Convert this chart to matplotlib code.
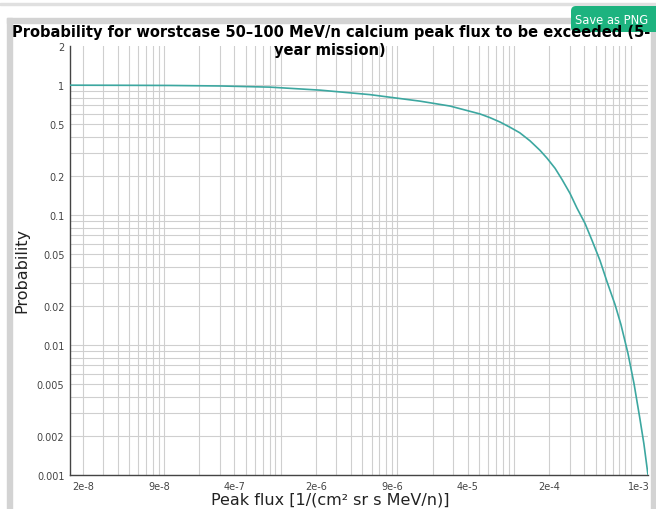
import numpy as np
import matplotlib
matplotlib.use("Agg")
import matplotlib.pyplot as plt
from matplotlib.patches import Rectangle, FancyBboxPatch
from matplotlib.ticker import FixedLocator, FixedFormatter, NullFormatter, LogLocator

# valeurs
flux = [1.556e-8, 4.18e-8, 1.12e-7, 3.01e-7, 8.07e-7, 2.17e-6, 5.82e-6,
        1.56e-5, 2.83e-5, 5.11e-5, 6.22e-5, 7.59e-5, 9.24e-5, 1.12e-4,
        1.37e-4, 1.67e-4, 1.92e-4, 2.25e-4, 2.58e-4, 3.02e-4, 3.47e-4,
        4.06e-4, 4.67e-4, 5.46e-4, 6.27e-4, 7.35e-4, 8.26e-4, 9.49e-4,
        1.07e-3, 1.20e-3, 1.30e-3, 1.41e-3]
prob = [0.999, 0.997, 0.994, 0.985, 0.965, 0.915, 0.845,
        0.753, 0.69, 0.60, 0.562, 0.52, 0.474, 0.43,
        0.373, 0.315, 0.274, 0.229, 0.188, 0.147, 0.113,
        0.0865, 0.0638, 0.0448, 0.0308, 0.0205, 0.0144, 0.00863,
        0.00504, 0.00273, 0.00174, 0.001]

x_ticks = [2e-8, 9.1e-8, 4e-7, 2e-6, 9e-6, 4e-5, 2e-4, 1.17e-3]
x_labels = ['2e-8', '9e-8', '4e-7', '2e-6', '9e-6', '4e-5', '2e-4', '1e-3']
y_ticks = [0.001, 0.002, 0.005, 0.01, 0.02, 0.05, 0.1, 0.2, 0.5, 1, 2]
y_labels = ['0.001', '0.002', '0.005', '0.01', '0.02', '0.05', '0.1', '0.2', '0.5', '1', '2']

title1 = 'Probability for worstcase 50\u2013100 MeV/n calcium peak flux to be exceeded (5-'
title2 = 'year mission)'
xlabel = 'Peak flux [1/(cm\u00b2 sr s MeV/n)]'
ylabel = 'Probability'

W, H = 656, 510
fig = plt.figure(figsize=(W / 100, H / 100), dpi=100)
fig.patch.set_facecolor('white')

def px(x, y):
    # pixels (origine en haut a gauche) -> pouces
    return x / 100, (H - y) / 100

# cadre de la page
tr = fig.dpi_scale_trans
fig.patches.append(Rectangle(px(0, 5.5), W / 100, 1.5 / 100, transform=tr, color='#e0e0e0', zorder=0))
fig.patches.append(Rectangle(px(7, 24), (W - 7) / 100, 5 / 100, transform=tr, color='#d3d3d3', zorder=0))
fig.patches.append(Rectangle(px(7, H), 5 / 100, (H - 19) / 100, transform=tr, color='#d3d3d3', zorder=0))
fig.patches.append(Rectangle(px(651, H), 5 / 100, (H - 19) / 100, transform=tr, color='#d3d3d3', zorder=0))
fig.patches.append(FancyBboxPatch(px(571, 33), 95 / 100, 26 / 100, transform=tr,
                                  boxstyle='round,pad=0,rounding_size=0.05',
                                  facecolor='#1db37f', edgecolor='none', zorder=1))
fig.text(612 / W, 1 - 21 / H, 'Save as PNG', color='white', fontsize=8.3,
         ha='center', va='center', zorder=2)

ax = fig.add_axes([70 / W, 1 - 476 / H, 578 / W, 429 / H])
ax.plot(flux, prob, color='#3ca7a0', lw=1.2, zorder=3)
ax.set_xscale('log')
ax.set_yscale('log')
ax.set_xlim(1.556e-8, 1.41e-3)
ax.set_ylim(0.001, 2)

ax.xaxis.set_major_locator(FixedLocator(x_ticks))
ax.xaxis.set_major_formatter(FixedFormatter(x_labels))
ax.xaxis.set_minor_locator(LogLocator(base=10, subs=np.arange(1, 10), numticks=50))
ax.xaxis.set_minor_formatter(NullFormatter())
ax.yaxis.set_major_locator(FixedLocator(y_ticks))
ax.yaxis.set_major_formatter(FixedFormatter(y_labels))
ax.yaxis.set_minor_locator(FixedLocator([k * 10.0 ** n for n in (-3, -2, -1) for k in range(1, 10)] + [1.0]))
ax.yaxis.set_minor_formatter(NullFormatter())
ax.xaxis.remove_overlapping_locs = False
ax.yaxis.remove_overlapping_locs = False

ax.grid(False, which='major')
ax.grid(True, which='minor', color='#cfcfcf', lw=0.8)
ax.tick_params(which='both', length=0, pad=4, labelsize=7, colors='#444444')
for s in ['top', 'right']:
    ax.spines[s].set_visible(False)
for s in ['left', 'bottom']:
    ax.spines[s].set_color('#444444')
    ax.spines[s].set_linewidth(1)

fig.text(22 / W, 1 - 270 / H, ylabel, rotation=90, fontsize=11.5, ha='center', va='center', color='#222222')
fig.text(330 / W, 1 - 500 / H, xlabel, fontsize=11.5, ha='center', va='center', color='#222222')
fig.text(331 / W, 1 - 33 / H, title1, fontsize=10.5, fontweight='bold', ha='center', va='center', zorder=5)
fig.text(330 / W, 1 - 50 / H, title2, fontsize=10.5, fontweight='bold', ha='center', va='center', zorder=5)

fig.savefig('out.png', dpi=100)
